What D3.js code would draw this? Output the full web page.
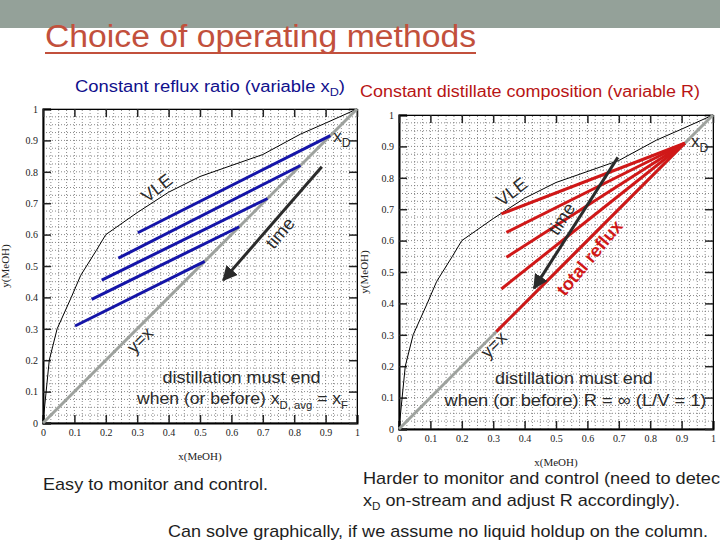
<!DOCTYPE html>
<html>
<head>
<meta charset="utf-8">
<script src="https://cdn.jsdelivr.net/npm/d3@7"></script>
<style>
  body { margin: 0; background: white; }
  text { font-family: "Liberation Sans", Arial, sans-serif; }
  .tick text, .axis-title { font-family: "Liberation Serif", "Times New Roman", serif; }
</style>
</head>
<body>
<div class="canvas"></div>
<script>
// Data
const vle_x = [0, 0.01, 0.02, 0.045, 0.09, 0.12, 0.17, 0.2, 0.3, 0.4, 0.5, 0.7, 0.82, 0.9, 1];
const vle_y = [0, 0.1, 0.2, 0.3, 0.4, 0.47, 0.55, 0.6, 0.67, 0.735, 0.785, 0.855, 0.92, 0.955, 1];

// constant R: operating lines end on the diagonal at a falling xD
const blue_start_x = [0.302, 0.240, 0.187, 0.155, 0.102];
const blue_start_y = [0.606, 0.525, 0.455, 0.394, 0.309];
const blue_xd = [0.915, 0.82, 0.715, 0.625, 0.515];

// constant xD: lines fan out of one xD
const red_xd = 0.91;
const red_start_x = [0.326, 0.342, 0.342, 0.326, 0.31];
const red_start_y = [0.685, 0.626, 0.547, 0.446, 0.31];

const ticks = [0, 0.1, 0.2, 0.3, 0.4, 0.5, 0.6, 0.7, 0.8, 0.9, 1];
const grid_steps = d3.range(0, 1.0001, 0.025);

// time arrows [x1, y1, x2, y2] in data units
const left_arrow = [0.888, 0.816, 0.574, 0.455];
const right_arrow = [0.697, 0.865, 0.43, 0.448];

const width = 720;
const height = 540;
const plot_size = 314;
const blue_color = "#1515a8";
const red_color = "#d01818";
const diag_color = "#9ea29e";
const text_color = "#2a2a2a";

const svg = d3.select(".canvas").append("svg")
    .attr("width", width)
    .attr("height", height)
    .style("background", "white");

svg.append("defs").append("marker")
    .attr("id", "arrowhead")
    .attr("viewBox", "0 -5 10 10")
    .attr("refX", 9)
    .attr("refY", 0)
    .attr("orient", "auto")
    .attr("markerWidth", 5)
    .attr("markerHeight", 5)
    .attr("fill", "#2b2b2b")
    .append("path")
    .attr("d", "M 0,-5 L 10,0 L 0,5 Z");

// stretch a text to the width it has on the slide
function fit(t, w) {
    return t.attr("textLength", w).attr("lengthAdjust", "spacingAndGlyphs");
}

// Header band and title
svg.append("rect")
    .attr("x", 0).attr("y", 0)
    .attr("width", width).attr("height", 28)
    .attr("fill", "#94a199");

fit(svg.append("text")
    .attr("x", 45).attr("y", 47)
    .attr("font-size", 31)
    .attr("fill", "#c2503c")
    .text("Choice of operating methods"), 431);
svg.append("rect")
    .attr("x", 45).attr("y", 52)
    .attr("width", 431).attr("height", 2)
    .attr("fill", "#c2503c");

const head_left = fit(svg.append("text")
    .attr("x", 75).attr("y", 92)
    .attr("font-size", 16)
    .attr("fill", "#10108c"), 270);
head_left.append("tspan").text("Constant reflux ratio (variable x");
head_left.append("tspan").attr("font-size", 11).attr("dy", 4).text("D");
head_left.append("tspan").attr("dy", -4).text(")");

fit(svg.append("text")
    .attr("x", 360).attr("y", 97)
    .attr("font-size", 16)
    .attr("fill", "#b81414")
    .text("Constant distillate composition (variable R)"), 340);

function sub_label(g, px, py, main, sub, size, color) {
    const t = g.append("text")
        .attr("x", px).attr("y", py)
        .attr("font-size", size)
        .attr("fill", color);
    t.append("tspan").text(main);
    t.append("tspan").attr("font-size", size * 0.72).attr("dy", 5).text(sub);
    return t;
}

function rotated_label(g, px, py, angle, label, size, color, weight) {
    g.append("text")
        .attr("transform", "translate(" + px + "," + py + ") rotate(" + angle + ")")
        .attr("text-anchor", "middle")
        .attr("dominant-baseline", "central")
        .attr("font-size", size)
        .attr("font-weight", weight || "normal")
        .attr("fill", color)
        .text(label);
}

function draw_panel(x0, y0, y_title_x) {
    const xScale = d3.scaleLinear().domain([0, 1]).range([x0, x0 + plot_size]);
    const yScale = d3.scaleLinear().domain([0, 1]).range([y0, y0 - plot_size]);
    const g = svg.append("g");

    // grid
    g.selectAll("line.vgrid")
        .data(grid_steps.slice(1, -1))
        .enter().append("line")
        .attr("x1", d => xScale(d)).attr("x2", d => xScale(d))
        .attr("y1", yScale(0)).attr("y2", yScale(1))
        .attr("stroke", "#6c6c6c")
        .attr("stroke-width", 0.8)
        .attr("stroke-dasharray", "1,2");
    g.selectAll("line.hgrid")
        .data(grid_steps.slice(1, -1))
        .enter().append("line")
        .attr("x1", xScale(0)).attr("x2", xScale(1))
        .attr("y1", d => yScale(d)).attr("y2", d => yScale(d))
        .attr("stroke", "#6c6c6c")
        .attr("stroke-width", 0.8)
        .attr("stroke-dasharray", "1,2");

    // frame
    g.append("rect")
        .attr("x", xScale(0)).attr("y", yScale(1))
        .attr("width", plot_size).attr("height", plot_size)
        .attr("fill", "none")
        .attr("stroke", "#666")
        .attr("stroke-width", 1);

    const fmt = d3.format(".1~f");
    const bottom = g.append("g")
        .attr("transform", "translate(0," + y0 + ")")
        .call(d3.axisBottom(xScale).tickValues(ticks).tickFormat(fmt).tickSize(-8).tickPadding(6));
    const left = g.append("g")
        .attr("transform", "translate(" + x0 + ",0)")
        .call(d3.axisLeft(yScale).tickValues(ticks).tickFormat(fmt).tickSize(-8).tickPadding(5));
    g.append("g")
        .attr("transform", "translate(" + (x0 + plot_size) + ",0)")
        .call(d3.axisRight(yScale).tickValues(ticks).tickFormat("").tickSize(-8));
    g.append("g")
        .attr("transform", "translate(0," + (y0 - plot_size) + ")")
        .call(d3.axisTop(xScale).tickValues(ticks).tickFormat("").tickSize(-8));
    [bottom, left].forEach(a => {
        a.select(".domain").attr("stroke", "black").attr("stroke-width", 2);
        a.selectAll(".tick text").attr("font-size", 10).attr("fill", "#222");
    });
    g.selectAll(".tick line").attr("stroke", "#222").attr("stroke-width", 1.5);

    g.append("text")
        .attr("class", "axis-title")
        .attr("x", xScale(0.5)).attr("y", y0 + 37)
        .attr("text-anchor", "middle")
        .attr("font-size", 11)
        .attr("fill", "#222")
        .text("x(MeOH)");
    g.append("text")
        .attr("class", "axis-title")
        .attr("transform", "translate(" + y_title_x + "," + yScale(0.5) + ") rotate(-90)")
        .attr("text-anchor", "middle")
        .attr("font-size", 11)
        .attr("fill", "#222")
        .text("y(MeOH)");

    // VLE curve and diagonal
    const vle_line = d3.line().x(d => xScale(d[0])).y(d => yScale(d[1]));
    g.append("path")
        .attr("d", vle_line(d3.zip(vle_x, vle_y)))
        .attr("fill", "none")
        .attr("stroke", "black")
        .attr("stroke-width", 1);
    g.append("line")
        .attr("x1", xScale(0)).attr("y1", yScale(0))
        .attr("x2", xScale(1)).attr("y2", yScale(1))
        .attr("stroke", diag_color)
        .attr("stroke-width", 3);

    return { g: g, x: xScale, y: yScale };
}

function draw_arrow(p, a) {
    p.g.append("line")
        .attr("x1", p.x(a[0])).attr("y1", p.y(a[1]))
        .attr("x2", p.x(a[2])).attr("y2", p.y(a[3]))
        .attr("stroke", "#2b2b2b")
        .attr("stroke-width", 3)
        .attr("marker-end", "url(#arrowhead)");
}

// Left panel: constant reflux ratio
const lp = draw_panel(43, 423, 9);

lp.g.selectAll("line.blue")
    .data(d3.range(blue_xd.length))
    .enter().append("line")
    .attr("x1", i => lp.x(blue_start_x[i])).attr("y1", i => lp.y(blue_start_y[i]))
    .attr("x2", i => lp.x(blue_xd[i])).attr("y2", i => lp.y(blue_xd[i]))
    .attr("stroke", blue_color)
    .attr("stroke-width", 3);
draw_arrow(lp, left_arrow);

rotated_label(lp.g, lp.x(0.363), lp.y(0.748), -38, "VLE", 18, text_color);
rotated_label(lp.g, lp.x(0.755), lp.y(0.605), -50, "time", 18, text_color);
rotated_label(lp.g, lp.x(0.309), lp.y(0.264), -45, "y=x", 18, text_color);
sub_label(lp.g, lp.x(0.924), lp.y(0.895), "x", "D", 17, text_color);

fit(lp.g.append("text")
    .attr("x", lp.x(0.632) - 79).attr("y", lp.y(0.127))
    .attr("font-size", 17)
    .attr("fill", text_color)
    .text("distillation must end"), 158);
const when_left = fit(lp.g.append("text")
    .attr("x", lp.x(0.634) - 105).attr("y", lp.y(0.06))
    .attr("font-size", 17)
    .attr("fill", text_color), 211);
when_left.append("tspan").text("when (or before) x");
when_left.append("tspan").attr("font-size", 11).attr("dy", 5).text("D, avg");
when_left.append("tspan").attr("dy", -5).text(" = x");
when_left.append("tspan").attr("font-size", 11).attr("dy", 5).text("F");

// Right panel: constant distillate composition
const rp = draw_panel(399, 429, 368);

rp.g.selectAll("line.red")
    .data(d3.range(red_start_x.length))
    .enter().append("line")
    .attr("x1", i => rp.x(red_start_x[i])).attr("y1", i => rp.y(red_start_y[i]))
    .attr("x2", rp.x(red_xd)).attr("y2", rp.y(red_xd))
    .attr("stroke", red_color)
    .attr("stroke-width", 3);
draw_arrow(rp, right_arrow);

rotated_label(rp.g, rp.x(0.359), rp.y(0.755), -38, "VLE", 18, text_color);
rotated_label(rp.g, rp.x(0.518), rp.y(0.669), -57, "time", 18, text_color);
rotated_label(rp.g, rp.x(0.607), rp.y(0.545), -50, "total reflux", 18, red_color, "bold");
rotated_label(rp.g, rp.x(0.302), rp.y(0.268), -45, "y=x", 18, text_color);
sub_label(rp.g, rp.x(0.93), rp.y(0.898), "x", "D", 17, text_color);

fit(rp.g.append("text")
    .attr("x", rp.x(0.557) - 79).attr("y", rp.y(0.143))
    .attr("font-size", 17)
    .attr("fill", text_color)
    .text("distillation must end"), 158);
fit(rp.g.append("text")
    .attr("x", rp.x(0.562) - 131).attr("y", rp.y(0.073))
    .attr("font-size", 17)
    .attr("fill", text_color)
    .text("when (or before) R = \u221E  (L/V = 1)"), 262);

// Bottom notes
fit(svg.append("text")
    .attr("x", 43).attr("y", 490)
    .attr("font-size", 17)
    .attr("fill", "#1e1e1e")
    .text("Easy to monitor and control."), 225);
fit(svg.append("text")
    .attr("x", 363).attr("y", 484)
    .attr("font-size", 17)
    .attr("fill", "#1e1e1e")
    .text("Harder to monitor and control (need to detect"), 362);
const note2 = fit(svg.append("text")
    .attr("x", 363).attr("y", 506)
    .attr("font-size", 17)
    .attr("fill", "#1e1e1e"), 317);
note2.append("tspan").text("x");
note2.append("tspan").attr("font-size", 11).attr("dy", 4).text("D");
note2.append("tspan").attr("dy", -4).text(" on-stream and adjust R accordingly).");
fit(svg.append("text")
    .attr("x", 168).attr("y", 537)
    .attr("font-size", 17)
    .attr("fill", "#1e1e1e")
    .text("Can solve graphically, if we assume no liquid holdup on the column."), 540);
</script>
</body>
</html>
